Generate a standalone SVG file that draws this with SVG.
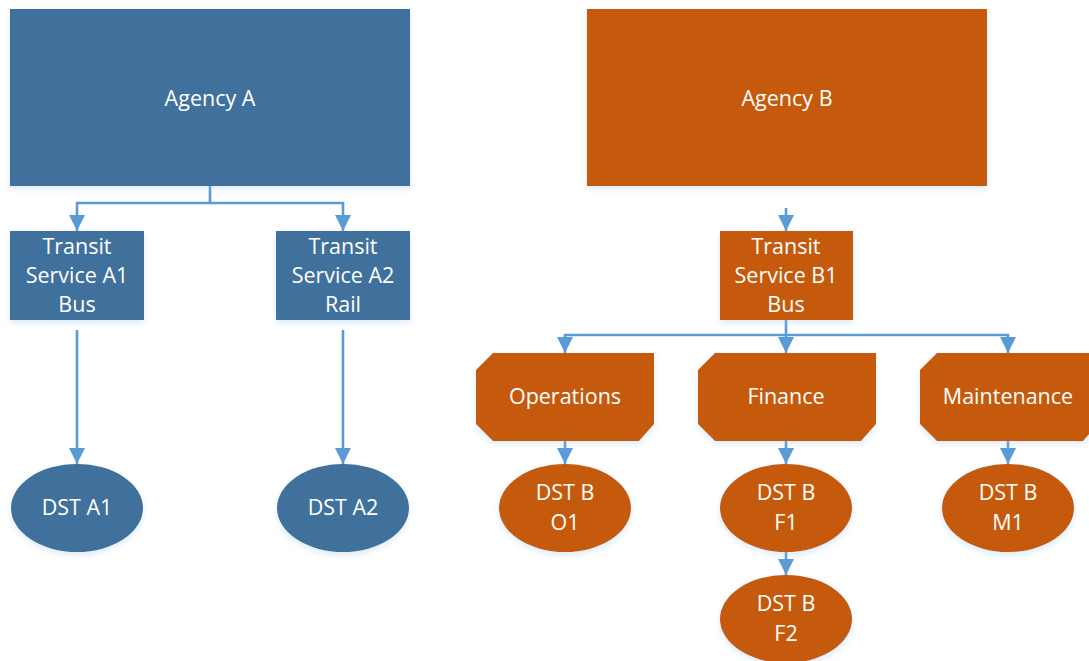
<svg xmlns="http://www.w3.org/2000/svg" width="1089" height="661" viewBox="0 0 1089 661">
  <style>
    .a { fill: #41719C; }
    .b { fill: #C55A11; }
    .shape { filter: url(#glow); }
    .t { font-family: "Open Sans", "Liberation Sans", sans-serif; font-size: 21.5px; fill: #ffffff; text-anchor: middle; }
    .wire { fill: none; stroke: #5B9BD5; stroke-width: 2.6; }
  </style>
  <defs>
    <marker id="arrow" viewBox="0 0 16 16" refX="16" refY="8" markerWidth="16" markerHeight="16" markerUnits="userSpaceOnUse" orient="auto">
      <path d="M0,0 L16,8 L0,16 Z" fill="#5B9BD5"/>
    </marker>
    <filter id="glow" x="-10%" y="-10%" width="120%" height="130%">
      <feGaussianBlur in="SourceAlpha" stdDeviation="3"/>
      <feOffset dy="3" result="b"/>
      <feFlood flood-color="#9DC3E6" flood-opacity="0.35"/>
      <feComposite in2="b" operator="in"/>
      <feMerge><feMergeNode/><feMergeNode in="SourceGraphic"/></feMerge>
    </filter>
  </defs>

  <!-- connectors -->
  <g id="connectors" class="wire">
    <path d="M210,186 V203 H77 V231" marker-end="url(#arrow)"/>
    <path d="M210,203 H343 V231" marker-end="url(#arrow)"/>
    <path d="M77,330 V464" marker-end="url(#arrow)"/>
    <path d="M343,330 V464" marker-end="url(#arrow)"/>
    <path d="M786,208 V231" marker-end="url(#arrow)"/>
    <path d="M786,320 V335 H565 V353" marker-end="url(#arrow)"/>
    <path d="M786,335 V353" marker-end="url(#arrow)"/>
    <path d="M786,335 H1008 V353" marker-end="url(#arrow)"/>
    <path d="M565,441 V464" marker-end="url(#arrow)"/>
    <path d="M786,441 V464" marker-end="url(#arrow)"/>
    <path d="M1008,441 V464" marker-end="url(#arrow)"/>
    <path d="M786,552 V575" marker-end="url(#arrow)"/>
  </g>

  <!-- agency A side -->
  <g id="agency-a">
    <rect class="a shape" x="10" y="9" width="400" height="177"/>
    <text class="t" x="210" y="106">Agency A</text>
  </g>
  <g id="transit-a1">
    <rect class="a shape" x="10" y="231" width="134" height="89"/>
    <text class="t" x="77" y="254">Transit</text>
    <text class="t" x="77" y="283">Service A1</text>
    <text class="t" x="77" y="312">Bus</text>
  </g>
  <g id="transit-a2">
    <rect class="a shape" x="276" y="231" width="134" height="89"/>
    <text class="t" x="343" y="254">Transit</text>
    <text class="t" x="343" y="283">Service A2</text>
    <text class="t" x="343" y="312">Rail</text>
  </g>
  <g id="dst-a1">
    <ellipse class="a shape" cx="77" cy="508" rx="66" ry="44"/>
    <text class="t" x="77" y="515">DST A1</text>
  </g>
  <g id="dst-a2">
    <ellipse class="a shape" cx="343" cy="508" rx="66" ry="44"/>
    <text class="t" x="343" y="515">DST A2</text>
  </g>

  <!-- agency B side -->
  <g id="agency-b">
    <rect class="b shape" x="587" y="9" width="400" height="177"/>
    <text class="t" x="787" y="106">Agency B</text>
  </g>
  <g id="transit-b1">
    <rect class="b shape" x="720" y="231" width="133" height="89"/>
    <text class="t" x="786" y="254">Transit</text>
    <text class="t" x="786" y="283">Service B1</text>
    <text class="t" x="786" y="312">Bus</text>
  </g>
  <g id="operations">
    <path class="b shape" d="M493,353 H654 V424 L639,441 H493 L476,424 V370 Z"/>
    <text class="t" x="565" y="404">Operations</text>
  </g>
  <g id="finance">
    <path class="b shape" d="M715,353 H876 V424 L861,441 H715 L698,424 V370 Z"/>
    <text class="t" x="786" y="404">Finance</text>
  </g>
  <g id="maintenance">
    <path class="b shape" d="M937,353 H1098 V424 L1083,441 H937 L920,424 V370 Z"/>
    <text class="t" x="1008" y="404">Maintenance</text>
  </g>
  <g id="dst-b-o1">
    <ellipse class="b shape" cx="565" cy="508" rx="66" ry="44"/>
    <text class="t" x="565" y="500">DST B</text>
    <text class="t" x="565" y="530">O1</text>
  </g>
  <g id="dst-b-f1">
    <ellipse class="b shape" cx="786" cy="508" rx="66" ry="44"/>
    <text class="t" x="786" y="500">DST B</text>
    <text class="t" x="786" y="530">F1</text>
  </g>
  <g id="dst-b-m1">
    <ellipse class="b shape" cx="1008" cy="508" rx="66" ry="44"/>
    <text class="t" x="1008" y="500">DST B</text>
    <text class="t" x="1008" y="530">M1</text>
  </g>
  <g id="dst-b-f2">
    <ellipse class="b shape" cx="786" cy="619" rx="66" ry="44"/>
    <text class="t" x="786" y="611">DST B</text>
    <text class="t" x="786" y="641">F2</text>
  </g>
</svg>
